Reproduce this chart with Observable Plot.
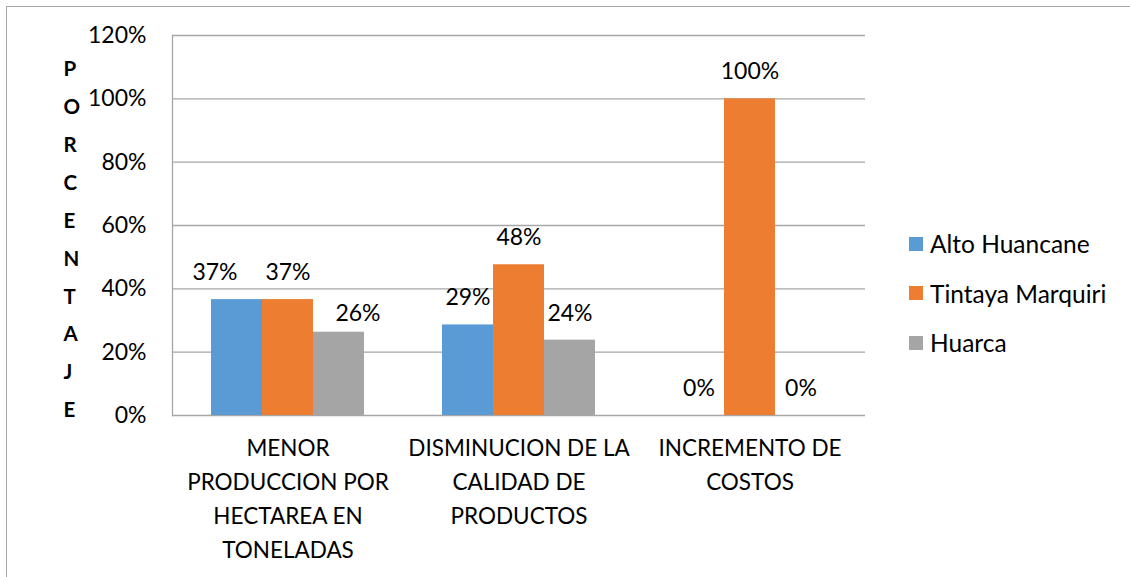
<!DOCTYPE html>
<html><head><meta charset="utf-8">
<script src="https://cdn.jsdelivr.net/npm/d3@7"></script>
<script src="https://cdn.jsdelivr.net/npm/@observablehq/plot@0.6"></script>
<style>
body{margin:0;background:#fff;}
#wrap{position:relative;width:1130px;height:577px;overflow:hidden;font-family:Lato,sans-serif;color:#000;}
#border{position:absolute;left:6px;top:6px;width:1300px;height:800px;border-top:1.5px solid #a6a6a6;border-left:1.5px solid #a6a6a6;}
#chart{position:absolute;left:0;top:0;}
#legend{position:absolute;left:909px;top:219px;font-size:24.5px;}
.item{display:flex;align-items:center;height:49.5px;white-space:nowrap;}
.sw{width:14px;height:14px;margin-right:7px;flex:none;}
</style></head>
<body><div id="wrap"><div id="border"></div><div id="chart"></div><div id="legend"></div></div>
<script>
const categories = ["MENOR PRODUCCION POR HECTAREA EN TONELADAS", "DISMINUCION DE LA CALIDAD DE PRODUCTOS", "INCREMENTO DE COSTOS"];
const categoryLines = ["MENOR\nPRODUCCION POR\nHECTAREA EN\nTONELADAS", "DISMINUCION DE LA\nCALIDAD DE\nPRODUCTOS", "INCREMENTO DE\nCOSTOS"];
const series = ["Alto Huancane", "Tintaya Marquiri", "Huarca"];
const altoHuancane = [0.366, 0.286, 0];
const tintayaMarquiri = [0.366, 0.476, 1.0];
const huarca = [0.263, 0.238, 0];
const colors = ["#5B9BD5", "#ED7D31", "#A5A5A5"];
const yTicks = [0, 0.2, 0.4, 0.6, 0.8, 1.0, 1.2];
const yTitle = "PORCENTAJE";

const values = [altoHuancane, tintayaMarquiri, huarca];
const data = [];
series.forEach((s, i) => categories.forEach((c, j) => data.push({cat: c, series: s, value: values[i][j]})));
const fmt = d3.format(".0%");
const lineOf = new Map(categories.map((c, i) => [c, categoryLines[i]]));

const isA = d => d.cat === categories[0] && d.series === series[0];
const isB = d => d.cat === categories[0] && d.series === series[2];

const chart = Plot.plot({
  width: 1130,
  height: 577,
  marginLeft: 171,
  marginRight: 264,
  marginTop: 35,
  marginBottom: 162,
  style: {fontFamily: "Lato, sans-serif", fontSize: "23px", color: "#000", background: "transparent"},
  fx: {domain: categories, padding: 0, label: null, axis: null},
  x: {domain: series, paddingInner: 0, paddingOuter: 0.76, axis: null},
  y: {domain: [0, 1.2], label: null},
  color: {domain: series, range: colors},
  marks: [
    Plot.gridY(yTicks, {stroke: "#a6a6a6", strokeOpacity: 1, strokeWidth: 1.3}),
    Plot.frame({anchor: "left", stroke: "#a6a6a6", strokeWidth: 1.3, fx: () => categories[0]}),
    Plot.barY(data, {fx: "cat", x: "series", y: "value", fill: "series", inset: 0}),
    Plot.text(data, {filter: d => !isA(d) && !isB(d), fx: "cat", x: "series", y: "value", text: d => fmt(d.value), dy: -27, fontSize: 23, fill: "#000"}),
    Plot.text(data, {filter: isA, fx: "cat", x: "series", y: "value", text: d => fmt(d.value), dy: -27, dx: -22, fontSize: 23, fill: "#000"}),
    Plot.text(data, {filter: isB, fx: "cat", x: "series", y: "value", text: d => fmt(d.value), dy: -19, dx: 19, fontSize: 23, fill: "#000"}),
    Plot.axisY(yTicks, {tickFormat: fmt, tickSize: 0, tickPadding: 26, fontSize: 23, label: null}),
    Plot.axisFx({anchor: "bottom", tickFormat: c => lineOf.get(c), tickSize: 0, tickPadding: 17, fontSize: 22.5, lineHeight: 1.5, label: null}),
    Plot.text([yTitle], {fx: () => categories[0], frameAnchor: "left", dx: -109, dy: 9, text: d => d.split("").join("\n"), lineHeight: 1.85, fontSize: 20.5, fontWeight: "bold", fill: "#000"})
  ]
});
document.getElementById("chart").appendChild(chart);

const legend = document.getElementById("legend");
series.forEach((s, i) => {
  const item = document.createElement("div");
  item.className = "item";
  const sw = document.createElement("div");
  sw.className = "sw";
  sw.style.background = colors[i];
  const t = document.createElement("span");
  t.textContent = s;
  item.appendChild(sw); item.appendChild(t);
  legend.appendChild(item);
});
</script>
</body></html>
